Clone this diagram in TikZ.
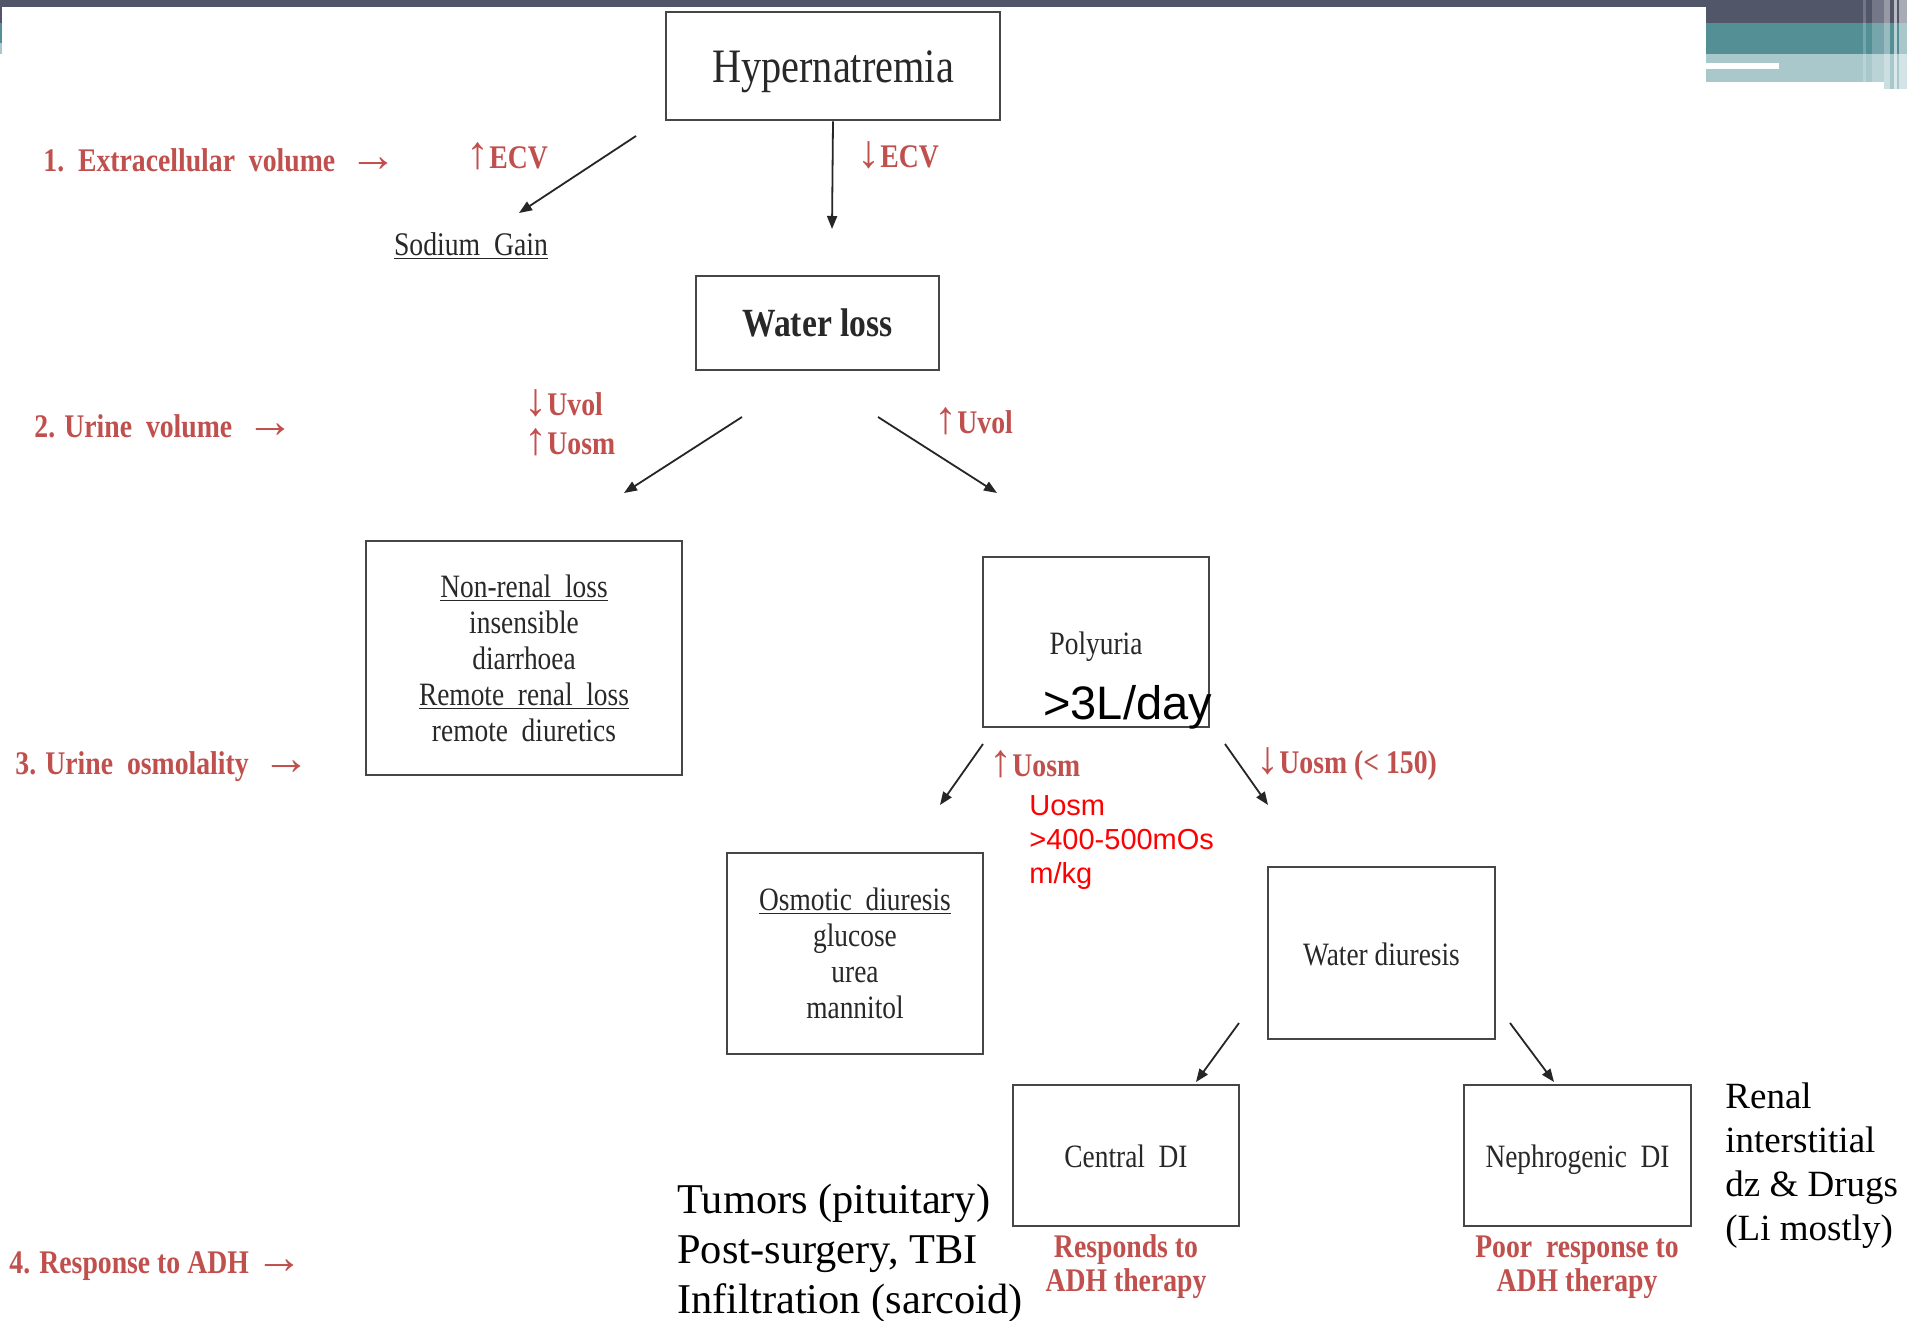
\documentclass[tikz,border=0pt]{standalone}
\usepackage{fontspec}
\setmainfont{Liberation Serif}
\newfontfamily\cserif[FakeStretch=0.84]{Liberation Serif}
\newfontfamily\csans{Liberation Sans}
\newfontfamily\arrowfont{Liberation Serif}
\usetikzlibrary{arrows.meta}
\definecolor{lblred}{RGB}{192,80,77}
\definecolor{bardark}{RGB}{82,86,105}
\definecolor{barteal}{RGB}{84,143,150}
\definecolor{barlight}{RGB}{169,200,204}
\definecolor{boxline}{RGB}{70,70,70}
\definecolor{boxtext}{RGB}{40,40,40}
\newcommand\myup{\smash{\arrowfont\fontsize{23}{23}\selectfont\mdseries ↑}}
\newcommand\mydown{\smash{\arrowfont\fontsize{23}{23}\selectfont\mdseries ↓}}
\newcommand\myright{\smash{\arrowfont\fontsize{24}{24}\selectfont\mdseries →}}
\tikzset{
 flowbox/.style={draw=boxline, line width=1.3pt, inner sep=0pt, align=center, text=boxtext, font=\cserif\fontsize{16.3}{18}\selectfont},
 oneline/.style={text height=15.5pt, text depth=3.5pt},
 redlbl/.style={text=lblred, inner sep=0pt, anchor=west, font=\cserif\bfseries\fontsize{16.5}{17}\selectfont},
 redpair/.style={text=lblred, inner sep=0pt, align=center, font=\cserif\bfseries\fontsize{16.5}{17}\selectfont},
 flowarrow/.style={-{Triangle[length=6.5pt,width=5pt]}, line width=0.9pt, draw=black!85},
 notetext/.style={inner sep=0pt, anchor=west, align=left},
}
\begin{document}
\begin{tikzpicture}[x=0.5pt,y=-0.5pt]
\useasboundingbox (0,0) rectangle (1907,1321);
\fill[white] (0,0) rectangle (1907,1321);
% top decoration
\fill[bardark] (0,0) rectangle (1907,7);
\fill[bardark] (1706,0) rectangle (1907,23);
\fill[barteal] (1706,23) rectangle (1907,54);
\fill[barlight] (1706,54) rectangle (1907,82);
\fill[white] (1706,63) rectangle (1779,69);
\fill[barlight] (1884,82) rectangle (1907,89);
\fill[white,opacity=0.2] (1863,0) rectangle (1866,82);
\fill[white,opacity=0.2] (1872,0) rectangle (1884,82);
\fill[white,opacity=0.4] (1884,0) rectangle (1890,89);
\fill[white,opacity=0.6] (1894,0) rectangle (1897,89);
\fill[white,opacity=0.5] (1899,0) rectangle (1907,89);
\fill[bardark] (0,7) rectangle (2,23);
\fill[barteal] (0,23) rectangle (2,43);
\fill[barlight] (0,43) rectangle (2,54);

% boxes
\node[flowbox, minimum width=167pt, minimum height=54pt, text height=22pt, text depth=5pt, font=\cserif\fontsize{24}{26}\selectfont] (hyp) at (833,66) {Hypernatremia};
\node[flowbox, minimum width=121.5pt, minimum height=47pt, text height=17.5pt, text depth=4pt, font=\cserif\bfseries\fontsize{20}{22}\selectfont] (wl) at (817.5,323) {Water loss};
\node[flowbox, minimum width=158pt, minimum height=117pt] (nr) at (524,658) {\underline{Non-renal\ \ loss}\\ insensible\\ diarrhoea\\ \underline{Remote\ \ renal\ \ loss}\\ remote\ \ diuretics};
\node[flowbox, oneline, minimum width=113pt, minimum height=85pt] (poly) at (1096,642) {Polyuria};
\node[flowbox, minimum width=128pt, minimum height=100.5pt] (osm) at (855,953.5) {\underline{Osmotic\ \ diuresis}\\ glucose\\ urea\\ mannitol};
\node[flowbox, oneline, minimum width=113.5pt, minimum height=86pt] (wd) at (1381.5,953) {Water diuresis};
\node[flowbox, oneline, minimum width=113pt, minimum height=70.5pt] (cdi) at (1126,1155.5) {Central\ \ DI};
\node[flowbox, oneline, minimum width=113.5pt, minimum height=70.5pt] (ndi) at (1577.5,1155.5) {Nephrogenic\ \ DI};

\node[inner sep=0pt, text=boxtext, font=\cserif\fontsize{16.5}{18}\selectfont] (na) at (471,246) {\underline{Sodium\ \ Gain}};
\node[notetext, font=\csans\fontsize{23.5}{26}\selectfont] (day) at (1043,707) {>3L/day};

% red labels
\node[redlbl] (l1) at (43,160) {1.\ \ Extracellular\ \ volume\ \ \myright};
\node[redlbl] (ecvup) at (466,158) {\myup ECV};
\node[redlbl] (ecvdn) at (857,157) {\mydown ECV};
\node[redlbl] (l2) at (34,426) {2. Urine\ \ volume\ \ \myright};
\node[redlbl, align=left, font=\cserif\bfseries\fontsize{16.5}{19.5}\selectfont] (uvoluosm) at (524,424) {\mydown Uvol\\ \myup Uosm};
\node[redlbl] (uvolup) at (934,422) {\myup Uvol};
\node[redlbl] (l3) at (15,767) {3. Urine\ \ osmolality\ \ \myright};
\node[redlbl] (uosmup2) at (989,766) {\myup Uosm};
\node[redlbl] (uosmdn) at (1256,766) {\mydown Uosm (< 150)};
\node[redlbl] (l4) at (9,1266) {4. Response to ADH \myright};
\node[redpair] (resp) at (1126,1267) {Responds to\\ ADH therapy};
\node[redpair] (poor) at (1577,1267) {Poor\ \ response to\\ ADH therapy};

\node[notetext, text=red, font=\csans\fontsize{14.5}{17}\selectfont] (uosmnote) at (1029,843) {Uosm\\ >400-500mOs\\ m/kg};
\node[notetext, font=\fontsize{21.2}{25}\selectfont] (central) at (677,1253) {Tumors (pituitary)\\ Post-surgery, TBI\\ Infiltration (sarcoid)};
\node[notetext, font=\fontsize{18.5}{22}\selectfont] (renal) at (1725,1166) {Renal\\ interstitial\\ dz \& Drugs\\ (Li mostly)};

% arrow end points
\coordinate (a1s) at (636,136); \coordinate (a1e) at (519,213);
\coordinate (a2e) at (832,229);
\coordinate (a3s) at (742,417); \coordinate (a3e) at (624,493);
\coordinate (a4s) at (878,417); \coordinate (a4e) at (997,493);
\coordinate (a5s) at (983,744); \coordinate (a5e) at (940,805);
\coordinate (a6s) at (1225,744); \coordinate (a6e) at (1268,805);
\coordinate (a7s) at (1239,1023); \coordinate (a7e) at (1196,1082);
\coordinate (a8s) at (1510,1023); \coordinate (a8e) at (1554,1082);

\draw[flowarrow] (a1s) -- (a1e);
\draw[flowarrow] (hyp.south) -- (a2e);
\draw[flowarrow] (a3s) -- (a3e);
\draw[flowarrow] (a4s) -- (a4e);
\draw[flowarrow] (a5s) -- (a5e);
\draw[flowarrow] (a6s) -- (a6e);
\draw[flowarrow] (a7s) -- (a7e);
\draw[flowarrow] (a8s) -- (a8e);
\end{tikzpicture}
\end{document}
